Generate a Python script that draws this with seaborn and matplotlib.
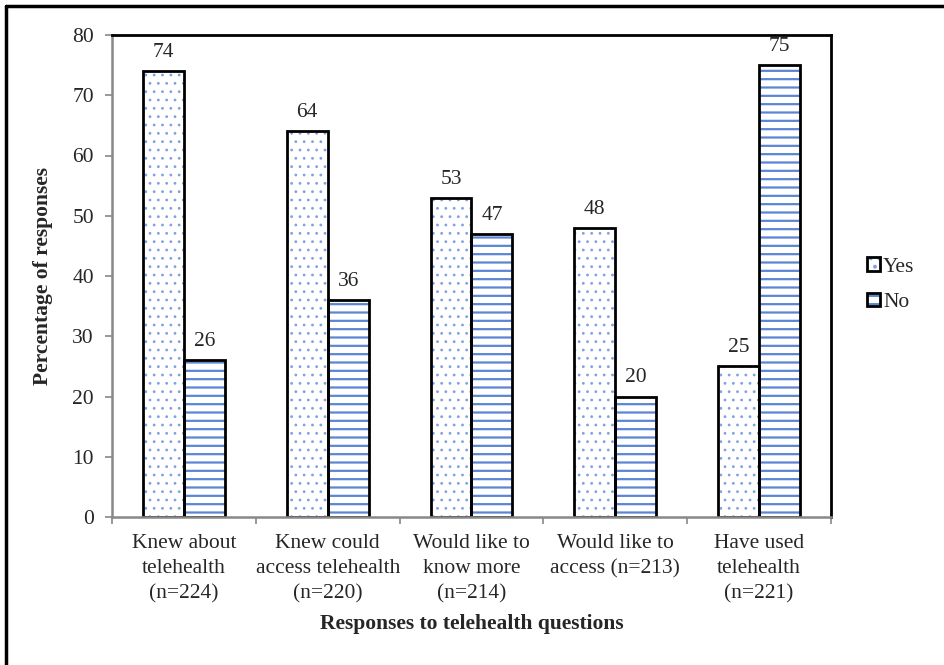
import matplotlib
matplotlib.use("Agg")
import matplotlib.pyplot as plt
import seaborn as sns
import pandas as pd
from matplotlib.lines import Line2D
from matplotlib.ticker import FixedLocator

categories = ["Knew about\ntelehealth\n(n=224)",
              "Knew could\naccess telehealth\n(n=220)",
              "Would like to\nknow more\n(n=214)",
              "Would like to\naccess (n=213)",
              "Have used\ntelehealth\n(n=221)"]
yes_vals = [74, 64, 53, 48, 25]
no_vals = [26, 36, 47, 20, 75]
series = ["Yes", "No"]
y_ticks = [0, 10, 20, 30, 40, 50, 60, 70, 80]

df = pd.DataFrame({
    "cat": categories * 2,
    "val": yes_vals + no_vals,
    "resp": ["Yes"] * len(categories) + ["No"] * len(categories),
})

sns.set_style("white")
plt.rcParams["font.family"] = ["Liberation Serif", "DejaVu Serif"]
plt.rcParams["hatch.linewidth"] = 1.6
FS = 15.5
plt.rcParams["font.size"] = FS

BLUE = "#5b86d4"
DOT = "#7fa2e0"
fig = plt.figure(figsize=(9.45, 6.65), dpi=100)
ax = fig.add_axes([112/945, 1-517/665, (831-112)/945, (517-35)/665])

# hatched layer
sns.barplot(data=df, x="cat", y="val", hue="resp", hue_order=series,
            palette=["white", "white"], width=0.57, ax=ax, legend=False,
            errorbar=None, linewidth=0, saturation=1)
hatched = list(ax.patches)
n = len(categories)
for i, p in enumerate(hatched):
    if i < n:
        p.set_hatch("..")
        p.set_edgecolor(DOT)
        if hasattr(p, "set_hatch_linewidth"):
            p.set_hatch_linewidth(0.8)
    else:
        p.set_hatch("--")
        p.set_edgecolor(BLUE)
    p.set_linewidth(0)
# outline layer
sns.barplot(data=df, x="cat", y="val", hue="resp", hue_order=series,
            fill=False, width=0.57, ax=ax, legend=False, errorbar=None,
            edgecolor="black", linewidth=2, saturation=1)
outlines = [p for p in ax.patches if p not in hatched]

# value labels
for p in outlines:
    h = p.get_height()
    ax.annotate(f"{h:.0f}", (p.get_x() + p.get_width()/2, h),
                xytext=(0, 6.5), textcoords="offset points",
                ha="center", va="bottom", fontsize=FS)

ax.set_ylim(0, 80)
ax.set_xlim(-0.5, 4.5)
ax.set_yticks(y_ticks)
ax.tick_params(axis="y", direction="out", length=5, width=1.2, color="#888888",
               labelsize=FS, pad=8, left=True)
ax.tick_params(axis="x", which="major", length=0, labelsize=FS, pad=12)
ax.xaxis.set_minor_locator(FixedLocator([-0.5, 0.5, 1.5, 2.5, 3.5, 4.5]))
ax.tick_params(axis="x", which="minor", direction="out", length=5, width=1.2,
               color="#888888", bottom=True)
for lbl in ax.get_xticklabels():
    lbl.set_linespacing(1.43)

for s in ["left", "bottom"]:
    ax.spines[s].set_color("#888888")
    ax.spines[s].set_linewidth(1.8)
for s in ["top", "right"]:
    ax.spines[s].set_color("black")
    ax.spines[s].set_linewidth(2)
    ax.spines[s].set_visible(True)

ax.set_ylabel("Percentage of responses", fontsize=FS, fontweight="bold", labelpad=14)
ax.set_xlabel("Responses to telehealth questions", fontsize=FS, fontweight="bold", labelpad=8)

handles = [(hatched[0], outlines[0]), (hatched[n], outlines[n])]
leg = ax.legend(handles, series, loc="center left", bbox_to_anchor=(1.038, 0.482),
                frameon=False, fontsize=FS, handlelength=0.6, handleheight=0.6,
                handletextpad=0.15, labelspacing=0.75, borderaxespad=0)

# outer chart border (left and top visible)
fig.add_artist(Line2D([6/945, 6/945], [0, 1-6/665], transform=fig.transFigure,
                      color="black", lw=2.5))
fig.add_artist(Line2D([6/945, 1], [1-6/665, 1-6/665], transform=fig.transFigure,
                      color="black", lw=2.5))

fig.savefig("out.png", dpi=100)
